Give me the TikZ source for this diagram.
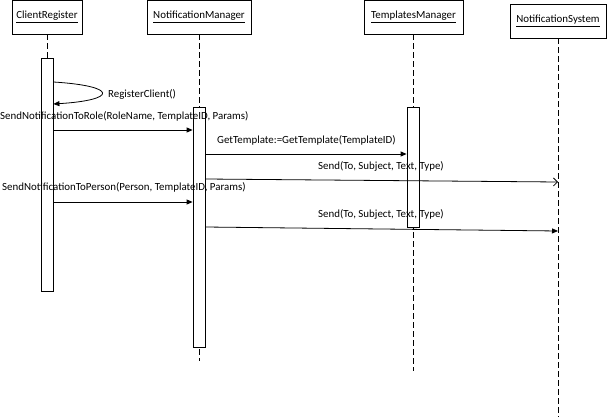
\documentclass[tikz,border=0pt]{standalone}
\usepackage{fontspec}
\setmainfont{Carlito}
\usetikzlibrary{arrows.meta}
\begin{document}
\begin{tikzpicture}[x=1pt,y=-1pt,
  every node/.style={font=\fontsize{10.9}{12}\selectfont, inner sep=0pt},
  actor/.style={draw, line width=0.8pt, minimum height=34pt},
  life/.style={line width=0.8pt, dash pattern=on 6pt off 3pt},
  act/.style={draw, line width=0.8pt, fill=white, minimum width=12pt, anchor=north},
  msg/.style={line width=0.8pt, -{Triangle[length=6pt,width=5pt]}},
  amsg/.style={line width=0.8pt, -{Straight Barb[length=4pt,width=8pt]}},
  lbl/.style={anchor=west}]
\useasboundingbox (0,0) rectangle (607,417);
% actors
\node[actor, minimum width=70pt] (cr) at (47,17) {\underline{ClientRegister}};
\node[actor, minimum width=104pt] (nm) at (199,17) {\underline{NotificationManager}};
\node[actor, minimum width=99pt] (tm) at (413.5,17) {\underline{TemplatesManager}};
\node[actor, minimum width=96pt] (ns) at (558,21) {\underline{NotificationSystem}};
% lifelines
\coordinate (crEnd) at (47,292);
\coordinate (nmEnd) at (199,361);
\coordinate (tmEnd) at (413,371);
\coordinate (nsEnd) at (558,417);
\draw[life] (cr.south) -- (crEnd);
\draw[life] (nm.south) -- (nmEnd);
\draw[life] (tm.south -| tmEnd) -- (tmEnd);
\draw[life] (ns.south) -- (nsEnd);
% activations
\node[act, minimum height=233pt] (crA) at (47,58) {};
\node[act, minimum height=240pt] (nmA) at (199,107) {};
\node[act, minimum height=120pt] (tmA) at (413,107) {};
% self call
\draw[msg] (crA.east |- 0,82) .. controls (118,86) and (118,100) .. (crA.east |- 0,104);
\node[lbl] (l0) at (108,94) {RegisterClient()};
% messages
\node[lbl] (l1) at (0,116) {SendNotificationToRole(RoleName, TemplateID, Params)};
\draw[msg] (crA.east |- 0,130) -- (nmA.west |- 0,130);
\node[lbl] (l2) at (217,140) {GetTemplate:=GetTemplate(TemplateID)};
\draw[msg] (nmA.east |- 0,154) -- (tmA.west |- 0,154);
\node[lbl] (l3) at (318,166) {Send(To, Subject, Text, Type)};
\draw[amsg] (nmA.east |- 0,179) -- (ns.south |- 0,182);
\node[lbl] (l4) at (2,187) {SendNotificationToPerson(Person, TemplateID, Params)};
\draw[msg] (crA.east |- 0,202) -- (nmA.west |- 0,202);
\node[lbl] (l5) at (318,214) {Send(To, Subject, Text, Type)};
\draw[msg] (nmA.east |- 0,227) -- (ns.south |- 0,231);
\end{tikzpicture}
\end{document}
